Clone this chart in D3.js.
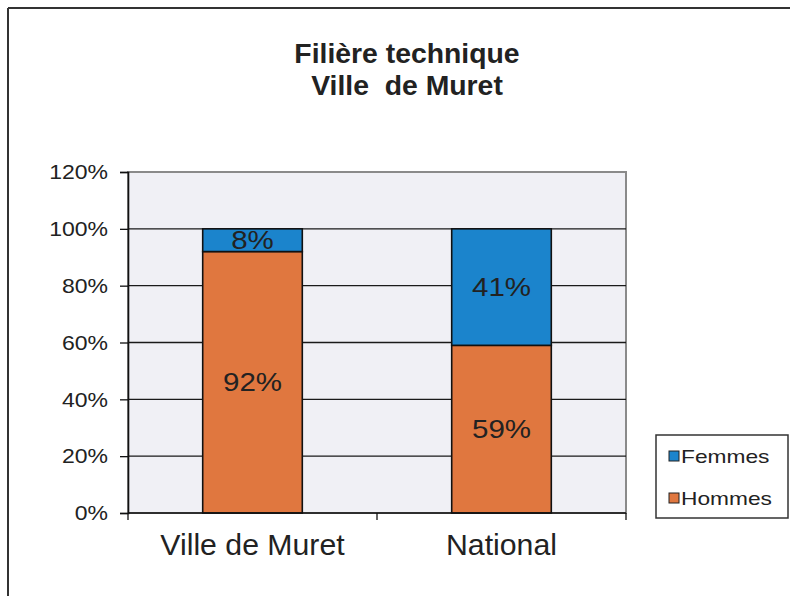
<!DOCTYPE html>
<html><head><meta charset="utf-8">
<script src="https://cdn.jsdelivr.net/npm/d3@7"></script>
<style>body{margin:0;background:#fff}svg{display:block}text{font-family:"Liberation Sans",Arial,sans-serif}</style>
</head><body>
<svg id="c" width="790" height="596"></svg>
<script>
const titleLines = ["Filière technique", "Ville  de Muret"];
const categories = ["Ville de Muret", "National"];
const seriesNames = ["Hommes", "Femmes"];
const hommes = [92, 59];
const femmes = [8, 41];
const yTicks = [0, 20, 40, 60, 80, 100, 120];
const colors = {Hommes: "#e0773f", Femmes: "#1b84cc"};

const svg = d3.select("#c");
const W = 790, H = 596;
const plot = {left: 128, right: 626, top: 172, bottom: 513};

// outer frame
svg.append("line").attr("x1", 8).attr("x2", W).attr("y1", 8).attr("y2", 8).attr("stroke", "#333").attr("stroke-width", 2);
svg.append("line").attr("x1", 8).attr("x2", 8).attr("y1", 8).attr("y2", H).attr("stroke", "#333").attr("stroke-width", 2);

// title
svg.append("g").selectAll("text").data(titleLines).join("text")
  .attr("transform", (d, i) => `translate(407,${63 + i * 32}) scale(1.05,1.03)`)
  .attr("text-anchor", "middle").attr("font-weight", "bold").attr("font-size", 27)
  .style("white-space", "pre")
  .attr("fill", "#222").text(d => d);

const x = d3.scaleBand().domain(categories).range([plot.left, plot.right]).paddingInner(0.6).paddingOuter(0.3);
const y = d3.scaleLinear().domain([0, 120]).range([plot.bottom, plot.top]);

// plot background
svg.append("rect").attr("x", plot.left).attr("y", plot.top).attr("width", plot.right - plot.left).attr("height", plot.bottom - plot.top)
  .attr("fill", "#f0f0f5").attr("stroke", "#8a8a8a").attr("stroke-width", 2);

// gridlines
svg.append("g").selectAll("line").data(yTicks.filter(t => t > 0 && t < 120)).join("line")
  .attr("x1", plot.left).attr("x2", plot.right).attr("y1", d => y(d)).attr("y2", d => y(d))
  .attr("stroke", "#1a1a1a").attr("stroke-width", 1.3);

// stacked bars
const rows = categories.map((c, i) => ({cat: c, Hommes: hommes[i], Femmes: femmes[i]}));
const stack = d3.stack().keys(seriesNames)(rows);
const layers = svg.append("g").selectAll("g").data(stack).join("g").attr("fill", d => colors[d.key]);
layers.selectAll("rect").data(d => d).join("rect")
  .attr("x", d => x(d.data.cat)).attr("width", x.bandwidth())
  .attr("y", d => y(d[1])).attr("height", d => y(d[0]) - y(d[1]))
  .attr("stroke", "#111").attr("stroke-width", 1.6);

// value labels
svg.append("g").selectAll("g").data(stack).join("g").selectAll("text").data(d => d).join("text")
  .attr("transform", d => `translate(${x(d.data.cat) + x.bandwidth() / 2},${(y(d[0]) + y(d[1])) / 2 + 9}) scale(1.18,1)`)
  .attr("text-anchor", "middle").attr("font-size", 25).attr("fill", "#222")
  .text(d => (d[1] - d[0]) + "%");

// y axis
const yAxis = d3.axisLeft(y).tickValues(yTicks).tickFormat(d => d + "%").tickSize(8).tickPadding(12);
const gy = svg.append("g").attr("transform", `translate(${plot.left},0)`).call(yAxis);
gy.select(".domain").attr("stroke", "#111").attr("stroke-width", 1.6);
gy.selectAll(".tick line").attr("stroke", "#111").attr("stroke-width", 1.3);
gy.selectAll(".tick text").attr("font-size", 19.5).attr("fill", "#222")
  .attr("transform", "scale(1.18,1)").attr("x", -20 / 1.18).attr("dy", "0.35em");

// x axis
const xEdges = [plot.left, (plot.left + plot.right) / 2, plot.right];
svg.append("line").attr("x1", plot.left).attr("x2", plot.right).attr("y1", plot.bottom).attr("y2", plot.bottom)
  .attr("stroke", "#111").attr("stroke-width", 1.6);
svg.append("g").selectAll("line").data(xEdges).join("line")
  .attr("x1", d => d).attr("x2", d => d).attr("y1", plot.bottom).attr("y2", plot.bottom + 7)
  .attr("stroke", "#111").attr("stroke-width", 1.3);
svg.append("g").selectAll("text").data(categories).join("text")
  .attr("transform", d => `translate(${x(d) + x.bandwidth() / 2},555) scale(1.12,1.12)`)
  .attr("text-anchor", "middle").attr("font-size", 27).attr("fill", "#222").text(d => d);

// legend
const lg = svg.append("g");
lg.append("rect").attr("x", 656).attr("y", 435).attr("width", 132).attr("height", 83)
  .attr("fill", "#fff").attr("stroke", "#333").attr("stroke-width", 1.5);
const legendItems = ["Femmes", "Hommes"];
const li = lg.selectAll("g.item").data(legendItems).join("g").attr("class", "item")
  .attr("transform", (d, i) => `translate(669,${456 + i * 42})`);
li.append("rect").attr("x", 0).attr("y", -5).attr("width", 10).attr("height", 10)
  .attr("fill", d => colors[d]).attr("stroke", "#222").attr("stroke-width", 1);
li.append("text").attr("transform", "translate(12,6.5) scale(1.3,1)").attr("font-size", 17.5).attr("fill", "#222").text(d => d);
</script>
</body></html>
